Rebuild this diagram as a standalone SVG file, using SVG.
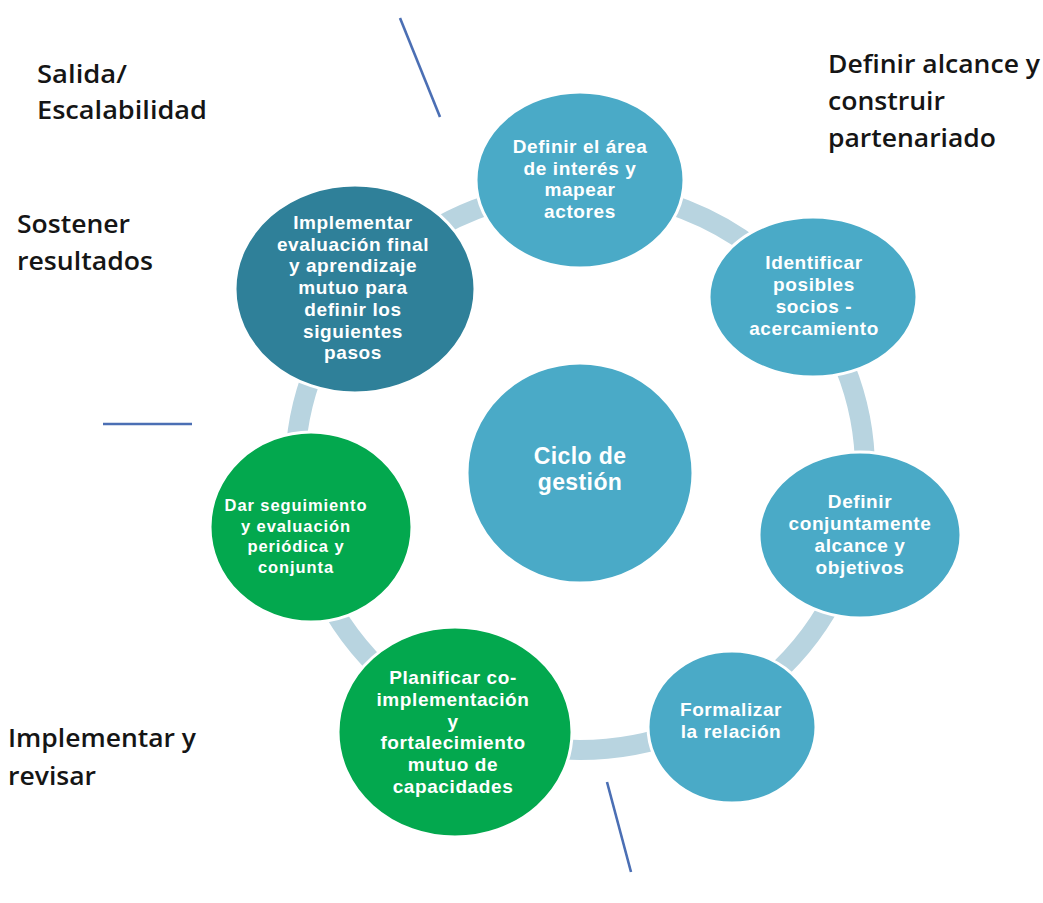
<svg xmlns="http://www.w3.org/2000/svg" width="1043" height="903" viewBox="0 0 1043 903">
<style>
.aqua{fill:#4aaac7;stroke:#ffffff;stroke-width:3}
.dark{fill:#2f8099;stroke:#ffffff;stroke-width:3}
.green{fill:#03a84e;stroke:#ffffff;stroke-width:3}
.nt{font-family:"Liberation Sans",Arial,sans-serif;font-weight:bold;font-size:19px;letter-spacing:0.6px;fill:#ffffff;text-anchor:middle}
.gt{font-family:"Liberation Sans",Arial,sans-serif;font-weight:bold;font-size:16.5px;letter-spacing:0.9px;fill:#ffffff;text-anchor:middle}
.lbl{font-family:"Open Sans","Liberation Sans",sans-serif;font-size:26px;font-weight:600;fill:#151515}
.div{stroke:#4b6fb4;stroke-width:2.6;fill:none}
</style>
<rect width="1043" height="903" fill="#ffffff"/>
<g id="connectors">
<ellipse cx="580" cy="470" rx="285" ry="280" fill="none" stroke="#b8d4e0" stroke-width="20"/>
</g>
<g id="dividers">
<line class="div" x1="400" y1="18" x2="440" y2="117"/>
<line class="div" x1="103" y1="424" x2="192" y2="424"/>
<line class="div" x1="607" y1="782" x2="631" y2="872"/>
</g>
<g id="node-top">
<ellipse class="aqua" cx="580" cy="180" rx="104" ry="88"/>
<text class="nt"><tspan x="580" y="153">Definir el área</tspan><tspan x="580" dy="21.7">de interés y</tspan><tspan x="580" dy="21.7">mapear</tspan><tspan x="580" dy="21.7">actores</tspan></text>
</g>
<g id="node-identificar">
<ellipse class="aqua" cx="813" cy="297" rx="104" ry="80"/>
<text class="nt"><tspan x="814" y="269">Identificar</tspan><tspan x="814" dy="22">posibles</tspan><tspan x="814" dy="22">socios  -</tspan><tspan x="814" dy="22">acercamiento</tspan></text>
</g>
<g id="node-definir">
<ellipse class="aqua" cx="860" cy="535" rx="101" ry="83"/>
<text class="nt"><tspan x="860" y="508">Definir</tspan><tspan x="860" dy="22">conjuntamente</tspan><tspan x="860" dy="22">alcance y</tspan><tspan x="860" dy="22">objetivos</tspan></text>
</g>
<g id="node-formalizar">
<ellipse class="aqua" cx="732" cy="727" rx="84" ry="76"/>
<text class="nt"><tspan x="731" y="716">Formalizar</tspan><tspan x="731" dy="21.5">la relación</tspan></text>
</g>
<g id="node-planificar">
<ellipse class="green" cx="455" cy="732" rx="117" ry="105"/>
<text class="nt"><tspan x="453" y="684">Planificar co-</tspan><tspan x="453" dy="21.8">implementación</tspan><tspan x="453" dy="21.8">y</tspan><tspan x="453" dy="21.8">fortalecimiento</tspan><tspan x="453" dy="21.8">mutuo de</tspan><tspan x="453" dy="21.8">capacidades</tspan></text>
</g>
<g id="node-seguimiento">
<ellipse class="green" cx="311" cy="527" rx="101" ry="95"/>
<text class="gt"><tspan x="296" y="511">Dar seguimiento</tspan><tspan x="296" dy="20.7">y evaluación</tspan><tspan x="296" dy="20.7">periódica y</tspan><tspan x="296" dy="20.7">conjunta</tspan></text>
</g>
<g id="node-implementar">
<ellipse class="dark" cx="355" cy="289" rx="120" ry="104"/>
<text class="nt"><tspan x="353" y="229">Implementar</tspan><tspan x="353" dy="21.7">evaluación final</tspan><tspan x="353" dy="21.7">y aprendizaje</tspan><tspan x="353" dy="21.7">mutuo para</tspan><tspan x="353" dy="21.7">definir los</tspan><tspan x="353" dy="21.7">siguientes</tspan><tspan x="353" dy="21.7">pasos</tspan></text>
</g>
<g id="node-center">
<ellipse class="aqua" cx="580" cy="473" rx="113" ry="110"/>
<text class="nt" style="font-size:23px;letter-spacing:0.4px"><tspan x="580" y="464">Ciclo de</tspan><tspan x="580" dy="26">gestión</tspan></text>
</g>
<g id="labels">
<text class="lbl"><tspan x="37" y="83" textLength="90" lengthAdjust="spacingAndGlyphs">Salida/</tspan><tspan x="37" y="119" textLength="170" lengthAdjust="spacingAndGlyphs">Escalabilidad</tspan></text>
<text class="lbl"><tspan x="17" y="233" textLength="113" lengthAdjust="spacingAndGlyphs">Sostener</tspan><tspan x="17" y="270" textLength="136" lengthAdjust="spacingAndGlyphs">resultados</tspan></text>
<text class="lbl"><tspan x="828" y="73" textLength="212" lengthAdjust="spacingAndGlyphs">Definir alcance y</tspan><tspan x="828" y="110" textLength="117" lengthAdjust="spacingAndGlyphs">construir</tspan><tspan x="828" y="147" textLength="168" lengthAdjust="spacingAndGlyphs">partenariado</tspan></text>
<text class="lbl"><tspan x="8" y="747" textLength="188" lengthAdjust="spacingAndGlyphs">Implementar y</tspan><tspan x="8" y="785" textLength="88" lengthAdjust="spacingAndGlyphs">revisar</tspan></text>
</g>
</svg>
